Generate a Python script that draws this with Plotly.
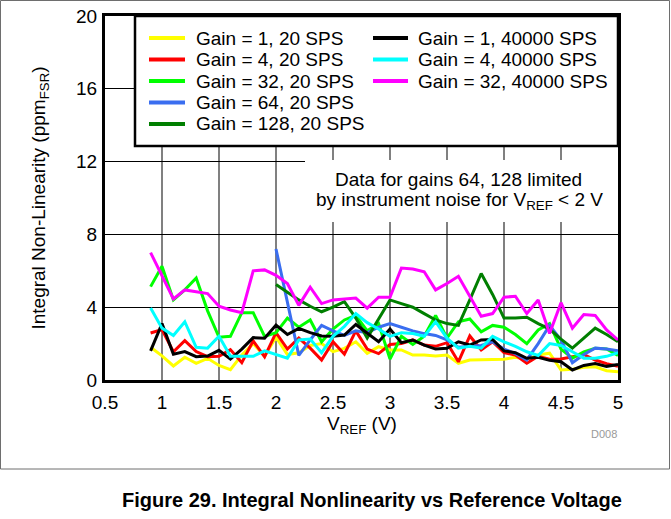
import plotly.graph_objects as go

# ---------------- data ----------------
vref = [0.9, 1.0, 1.1, 1.2, 1.3, 1.4, 1.5, 1.6, 1.7, 1.8, 1.9, 2.0,
        2.1, 2.2, 2.3, 2.4, 2.5, 2.6, 2.7, 2.8, 2.9, 3.0,
        3.1, 3.2, 3.3, 3.4, 3.5, 3.6, 3.7, 3.8, 3.9, 4.0,
        4.1, 4.2, 4.3, 4.4, 4.5, 4.6, 4.7, 4.8, 4.9, 5.0]
vref_hi = vref[11:]  # gains 64 and 128 start at 2 V

g1_20 = [1.8, 1.33, 0.77, 1.25, 0.92, 1.19, 0.8, 0.57, 1.37, 2.0, 1.3, 2.35,
         1.4, 1.5, 1.9, 2.0, 1.56, 1.74, 2.1, 1.47, 1.83, 1.65,
         1.65, 1.37, 1.37, 1.32, 1.37, 0.92, 1.1, 1.1, 1.1, 1.14,
         1.25, 1.14, 1.37, 1.47, 0.55, 0.59, 0.7, 0.73, 0.51, 0.46]
g4_20 = [2.58, 2.77, 1.55, 2.16, 1.56, 1.28, 1.3, 1.67, 0.95, 2.15, 1.27, 2.6,
         1.7, 2.3, 1.75, 1.1, 2.1, 1.42, 2.7, 1.7, 1.45, 1.95,
         2.0, 2.2, 1.92, 1.85, 2.05, 1.0, 2.42, 1.65, 2.1, 1.5,
         1.37, 0.92, 1.3, 1.14, 1.15, 1.28, 1.4, 1.1, 0.9, 0.75]
g32_20 = [5.13, 6.25, 4.4, 4.95, 5.6, 3.8, 2.35, 2.4, 3.7, 3.7, 2.4, 2.6,
          3.4, 2.9, 3.3, 2.1, 2.8, 3.3, 3.55, 2.7, 3.1, 1.15,
          2.4, 1.95, 2.4, 3.55, 2.3, 3.2, 3.35, 2.65, 3.0, 2.9,
          2.5, 2.0, 2.75, 3.1, 1.7, 1.2, 1.55, 1.75, 1.7, 1.35]
g64_20 = [7.2, 4.3, 1.35, 2.2, 3.0, 2.7, 2.45, 2.7, 2.6, 2.9, 3.1,
          2.9, 2.7, 2.55, 2.45, 2.2, 1.8, 1.85, 1.9, 2.1, 1.7,
          1.45, 1.1, 2.0, 3.0, 2.2, 0.95, 1.4, 1.75, 1.7, 1.6]
g128_20 = [5.25, 4.8, 4.4, 4.05, 3.75, 4.0, 4.3, 3.4, 2.3, 3.35, 4.4,
           4.2, 4.0, 3.65, 3.3, 3.1, 3.0, 4.4, 5.85, 4.7, 3.4,
           3.4, 3.45, 3.1, 2.8, 2.25, 1.75, 2.3, 2.85, 2.5, 2.1]
g1_40k = [1.6, 3.1, 1.42, 1.56, 1.28, 1.32, 1.63, 1.15, 1.7, 2.33, 2.3, 3.02,
          2.5, 2.84, 2.6, 2.42, 2.4, 2.47, 3.05, 2.6, 2.1, 2.8,
          2.05, 2.2, 1.92, 1.7, 1.74, 2.1, 1.92, 2.2, 2.23, 1.6,
          1.5, 1.19, 1.25, 1.08, 1.0, 0.55, 0.8, 0.9, 0.75, 0.85]
g4_40k = [3.95, 2.85, 2.45, 3.2, 1.8, 1.75, 2.4, 1.3, 1.3, 1.3, 1.6, 1.4,
          1.2, 2.2, 2.25, 1.5, 2.4, 2.95, 3.65, 3.15, 2.8, 2.4,
          2.6, 2.55, 2.4, 3.2, 2.3, 1.75, 1.85, 1.75, 2.4, 2.1,
          1.85, 1.55, 1.35, 2.0, 1.9, 1.55, 1.2, 1.2, 1.3, 1.5]
g32_40k = [7.0, 5.7, 4.45, 4.95, 4.85, 4.75, 4.05, 3.85, 3.7, 6.0, 6.05, 5.75,
           5.3, 4.1, 5.1, 4.2, 4.4, 4.45, 4.5, 3.95, 4.55, 4.55,
           6.15, 6.1, 5.95, 4.95, 5.3, 5.7, 4.6, 3.5, 3.65, 4.55,
           4.6, 3.65, 4.4, 2.55, 4.25, 2.85, 3.6, 3.55, 2.75, 2.2]

series = [
    ("Gain = 1, 20 SPS", vref, g1_20, "#FFFF00"),
    ("Gain = 4, 20 SPS", vref, g4_20, "#FF0000"),
    ("Gain = 32, 20 SPS", vref, g32_20, "#00FF00"),
    ("Gain = 64, 20 SPS", vref_hi, g64_20, "#3A6EF0"),
    ("Gain = 128, 20 SPS", vref_hi, g128_20, "#007F00"),
    ("Gain = 1, 40000 SPS", vref, g1_40k, "#000000"),
    ("Gain = 4, 40000 SPS", vref, g4_40k, "#00FFFF"),
    ("Gain = 32, 40000 SPS", vref, g32_40k, "#FF00FF"),
]
legend_col = [0, 0, 0, 0, 0, 1, 1, 1]
legend_row = [0, 1, 2, 3, 4, 0, 1, 2]

x_ticks = [0.5, 1, 1.5, 2, 2.5, 3, 3.5, 4, 4.5, 5]
x_tick_text = ["0.5", "1", "1.5", "2", "2.5", "3", "3.5", "4", "4.5", "5"]
y_ticks = [0, 4, 8, 12, 16, 20]

# ---------------- layout helpers ----------------
W, H = 671, 519
L, R, T, B = 105, 618, 16, 380
FONT = "Liberation Sans, Arial, sans-serif"
FS = 19


def px(x):
    return (x - L) / (R - L)


def py(y):
    return (B - y) / (B - T)


fig = go.Figure()
for name, xs, ys, col in series:
    fig.add_trace(go.Scatter(x=xs, y=ys, mode="lines", name=name,
                             line=dict(color=col, width=3),
                             showlegend=False))

shapes = []
annotations = []

# outer frame
shapes.append(dict(type="rect", xref="paper", yref="paper",
                   x0=px(0.5), x1=px(669.5), y0=py(0.5), y1=py(469),
                   line=dict(color="#6e6e6e", width=1), layer="above"))

# white box behind the note
shapes.append(dict(type="rect", xref="paper", yref="paper",
                   x0=px(305), x1=1, y0=py(160), y1=py(222),
                   fillcolor="white", line=dict(width=0), layer="above"))

# legend box
shapes.append(dict(type="rect", xref="paper", yref="paper",
                   x0=px(135), x1=1, y0=py(146), y1=1,
                   fillcolor="white", line=dict(color="black", width=2.5),
                   layer="above"))

col_line_x = [(149, 185), (373, 408)]
col_text_x = [194, 416]
row_y = [38, 59.5, 81, 102.5, 124]
for (name, xs, ys, col), c, r in zip(series, legend_col, legend_row):
    x0, x1 = col_line_x[c]
    yy = row_y[r]
    shapes.append(dict(type="line", xref="paper", yref="paper",
                       x0=px(x0), x1=px(x1), y0=py(yy), y1=py(yy),
                       line=dict(color=col, width=4), layer="above"))
    annotations.append(dict(text=name, xref="paper", yref="paper",
                            x=px(col_text_x[c]), y=py(yy), xanchor="left",
                            yanchor="middle", showarrow=False,
                            font=dict(family=FONT, size=FS, color="black")))

# note text
annotations.append(dict(text="Data for gains 64, 128 limited", xref="paper",
                        yref="paper", x=px(458), y=py(180), xanchor="center",
                        yanchor="middle", showarrow=False,
                        font=dict(family=FONT, size=FS, color="black")))
annotations.append(dict(text="by instrument noise for V<sub>REF</sub> < 2 V",
                        xref="paper", yref="paper", x=px(459), y=py(201),
                        xanchor="center", yanchor="middle", showarrow=False,
                        font=dict(family=FONT, size=FS, color="black")))

# x-axis title
annotations.append(dict(text="V<sub>REF</sub> (V)", xref="paper", yref="paper",
                        x=0.5, y=py(425), xanchor="center", yanchor="middle",
                        showarrow=False,
                        font=dict(family=FONT, size=FS, color="black")))

# D008 tag
annotations.append(dict(text="D008", xref="paper", yref="paper",
                        x=px(619), y=py(434), xanchor="right", yanchor="middle",
                        showarrow=False,
                        font=dict(family=FONT, size=11, color="#999999")))

# caption
annotations.append(dict(text="<b>Figure 29. Integral Nonlinearity vs Reference Voltage</b>",
                        xref="paper", yref="paper", x=px(372), y=py(500),
                        xanchor="center", yanchor="middle", showarrow=False,
                        font=dict(family=FONT, size=20, color="black")))

fig.update_layout(
    width=W, height=H,
    margin=dict(l=L, r=W - R, t=T, b=H - B, pad=0, autoexpand=False),
    paper_bgcolor="white", plot_bgcolor="white",
    font=dict(family=FONT, size=FS, color="black"),
    shapes=shapes, annotations=annotations,
    showlegend=False,
)
fig.update_xaxes(range=[0.5, 5], tickvals=x_ticks, ticktext=x_tick_text,
                 showgrid=True, gridcolor="#808080", gridwidth=2,
                 showline=True, linecolor="black", linewidth=3, mirror=True,
                 zeroline=False, ticks="", ticklabelstandoff=3)
fig.update_yaxes(range=[0, 20], tickvals=y_ticks,
                 showgrid=True, gridcolor="#000000", gridwidth=1,
                 showline=True, linecolor="black", linewidth=3, mirror=True,
                 zeroline=False, ticks="", ticklabelstandoff=1,
                 title=dict(text="Integral Non-Linearity (ppm<sub>FSR</sub>)",
                            standoff=26, font=dict(family=FONT, size=FS)))

fig.write_html("out.html", config={"displayModeBar": False},
               post_script="document.body.style.margin='0px';")
